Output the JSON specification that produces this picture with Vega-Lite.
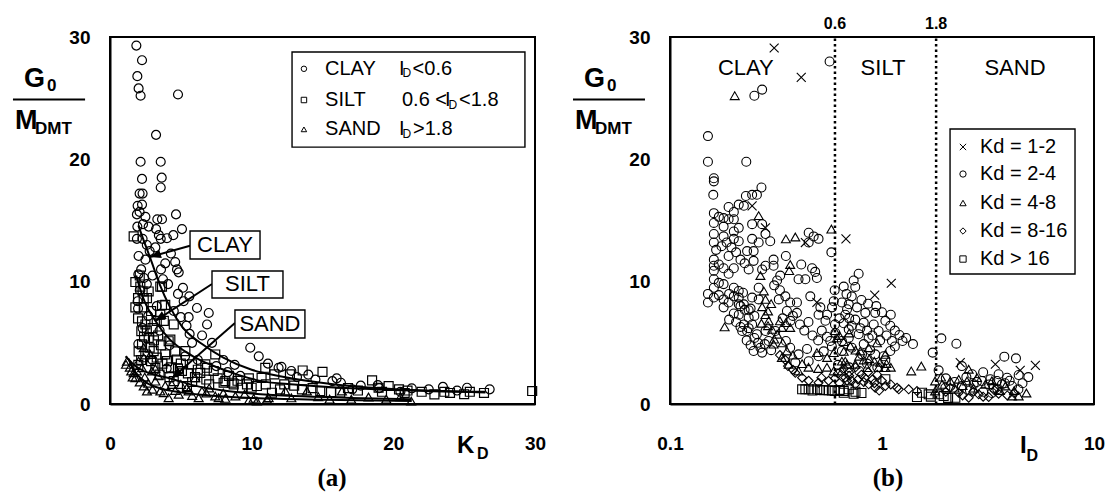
{
  "$schema": "https://vega.github.io/schema/vega-lite/v6.json",
  "background": "white",
  "padding": {"left": 10, "top": 15, "right": 4, "bottom": 4},
  "config": {
    "view": {"stroke": "black", "strokeWidth": 2},
    "axis": {
      "title": null, "grid": false, "domainColor": "black", "domainWidth": 2,
      "ticks": false, "tickSize": 0,
      "labelFont": "Liberation Sans", "labelFontSize": 19, "labelFontWeight": "bold",
      "labelColor": "black", "labelOverlap": false, "labelFlush": false, "labelBound": false
    },
    "text": {"font": "Liberation Sans", "color": "black"}
  },
  "resolve": {"scale": {"shape": "independent"}},
  "datasets": {
    "kdPoints": [
      {"kd":1.86,"ratio":29.3,"soil":"CLAY"},{"kd":2.26,"ratio":28.1,"soil":"CLAY"},{"kd":1.93,"ratio":26.8,"soil":"CLAY"},{"kd":2.02,"ratio":25.8,"soil":"CLAY"},{"kd":2.16,"ratio":25.2,"soil":"CLAY"},{"kd":4.8,"ratio":25.3,"soil":"CLAY"},{"kd":3.25,"ratio":22.0,"soil":"CLAY"},{"kd":2.16,"ratio":19.8,"soil":"CLAY"},{"kd":3.58,"ratio":19.8,"soil":"CLAY"},{"kd":2.26,"ratio":18.4,"soil":"CLAY"},{"kd":3.65,"ratio":18.5,"soil":"CLAY"},{"kd":3.58,"ratio":17.7,"soil":"CLAY"},{"kd":2.09,"ratio":17.2,"soil":"CLAY"},{"kd":2.3,"ratio":17.2,"soil":"CLAY"},{"kd":1.95,"ratio":16.2,"soil":"CLAY"},{"kd":2.26,"ratio":16.3,"soil":"CLAY"},{"kd":2.09,"ratio":15.7,"soil":"CLAY"},{"kd":1.9,"ratio":15.5,"soil":"CLAY"},{"kd":2.5,"ratio":15.3,"soil":"CLAY"},{"kd":4.66,"ratio":15.5,"soil":"CLAY"},{"kd":3.34,"ratio":15.1,"soil":"CLAY"},{"kd":3.67,"ratio":15.1,"soil":"CLAY"},{"kd":1.93,"ratio":14.5,"soil":"CLAY"},{"kd":2.33,"ratio":14.7,"soil":"CLAY"},{"kd":2.73,"ratio":14.5,"soil":"CLAY"},{"kd":3.25,"ratio":14.3,"soil":"CLAY"},{"kd":5.08,"ratio":14.3,"soil":"CLAY"},{"kd":4.02,"ratio":13.55,"soil":"CLAY"},{"kd":4.47,"ratio":13.8,"soil":"CLAY"},{"kd":3.58,"ratio":13.5,"soil":"CLAY"},{"kd":3.45,"ratio":13.8,"soil":"CLAY"},{"kd":2.3,"ratio":13.5,"soil":"CLAY"},{"kd":1.9,"ratio":13.5,"soil":"CLAY"},{"kd":2.8,"ratio":12.5,"soil":"CLAY"},{"kd":2.02,"ratio":12.1,"soil":"CLAY"},{"kd":3.9,"ratio":11.5,"soil":"CLAY"},{"kd":4.6,"ratio":11.6,"soil":"CLAY"},{"kd":4.73,"ratio":11.0,"soil":"CLAY"},{"kd":3.74,"ratio":10.2,"soil":"CLAY"},{"kd":5.15,"ratio":9.5,"soil":"CLAY"},{"kd":5.6,"ratio":8.8,"soil":"CLAY"},{"kd":5.2,"ratio":8.4,"soil":"CLAY"},{"kd":6.14,"ratio":7.85,"soil":"CLAY"},{"kd":5.55,"ratio":7.1,"soil":"CLAY"},{"kd":5.0,"ratio":7.1,"soil":"CLAY"},{"kd":6.97,"ratio":7.44,"soil":"CLAY"},{"kd":6.85,"ratio":6.5,"soil":"CLAY"},{"kd":5.62,"ratio":5.73,"soil":"CLAY"},{"kd":5.79,"ratio":5.0,"soil":"CLAY"},{"kd":9.9,"ratio":4.6,"soil":"CLAY"},{"kd":1.95,"ratio":8.4,"soil":"CLAY"},{"kd":1.98,"ratio":7.8,"soil":"CLAY"},{"kd":4.85,"ratio":10.76,"soil":"CLAY"},{"kd":11.15,"ratio":3.3,"soil":"CLAY"},{"kd":12.1,"ratio":3.04,"soil":"CLAY"},{"kd":11.9,"ratio":2.96,"soil":"CLAY"},{"kd":15.7,"ratio":1.87,"soil":"CLAY"},{"kd":16.3,"ratio":1.74,"soil":"CLAY"},{"kd":17.7,"ratio":1.5,"soil":"CLAY"},{"kd":21.3,"ratio":1.28,"soil":"CLAY"},{"kd":25.2,"ratio":1.33,"soil":"CLAY"},{"kd":26.8,"ratio":1.2,"soil":"CLAY"},{"kd":17.1,"ratio":1.2,"soil":"CLAY"},{"kd":20.5,"ratio":1.0,"soil":"CLAY"},{"kd":2.2,"ratio":11.0,"soil":"CLAY"},{"kd":2.4,"ratio":10.3,"soil":"CLAY"},{"kd":2.1,"ratio":9.3,"soil":"CLAY"},{"kd":2.6,"ratio":9.8,"soil":"CLAY"},{"kd":3.0,"ratio":10.5,"soil":"CLAY"},{"kd":2.3,"ratio":6.2,"soil":"CLAY"},{"kd":2.7,"ratio":7.2,"soil":"CLAY"},{"kd":3.3,"ratio":8.0,"soil":"CLAY"},{"kd":3.5,"ratio":6.0,"soil":"CLAY"},{"kd":4.2,"ratio":4.8,"soil":"CLAY"},{"kd":4.5,"ratio":7.6,"soil":"CLAY"},{"kd":5.3,"ratio":3.9,"soil":"CLAY"},{"kd":6.2,"ratio":3.6,"soil":"CLAY"},{"kd":7.5,"ratio":3.1,"soil":"CLAY"},{"kd":8.3,"ratio":2.6,"soil":"CLAY"},{"kd":9.2,"ratio":2.3,"soil":"CLAY"},{"kd":13.2,"ratio":2.2,"soil":"CLAY"},{"kd":14.5,"ratio":2.0,"soil":"CLAY"},{"kd":18.9,"ratio":1.55,"soil":"CLAY"},{"kd":22.5,"ratio":1.2,"soil":"CLAY"},{"kd":2.0,"ratio":4.9,"soil":"CLAY"},{"kd":3.0,"ratio":3.6,"soil":"CLAY"},{"kd":4.0,"ratio":2.9,"soil":"CLAY"},
      {"kd":2.0,"ratio":10.6,"soil":"CLAY"},{"kd":2.5,"ratio":11.8,"soil":"CLAY"},{"kd":3.2,"ratio":12.8,"soil":"CLAY"},{"kd":4.3,"ratio":12.3,"soil":"CLAY"},{"kd":2.6,"ratio":13.0,"soil":"CLAY"},{"kd":3.6,"ratio":11.0,"soil":"CLAY"},{"kd":4.1,"ratio":9.8,"soil":"CLAY"},{"kd":4.8,"ratio":9.0,"soil":"CLAY"},{"kd":5.4,"ratio":6.4,"soil":"CLAY"},{"kd":6.5,"ratio":5.6,"soil":"CLAY"},{"kd":7.2,"ratio":5.0,"soil":"CLAY"},{"kd":8.0,"ratio":3.6,"soil":"CLAY"},{"kd":8.8,"ratio":3.2,"soil":"CLAY"},{"kd":10.5,"ratio":3.9,"soil":"CLAY"},{"kd":12.8,"ratio":2.7,"soil":"CLAY"},{"kd":14.0,"ratio":2.4,"soil":"CLAY"},{"kd":16.0,"ratio":2.1,"soil":"CLAY"},{"kd":19.0,"ratio":1.3,"soil":"CLAY"},{"kd":23.5,"ratio":1.4,"soil":"CLAY"},{"kd":24.5,"ratio":1.1,"soil":"CLAY"},
      {"kd":1.67,"ratio":13.7,"soil":"SILT"},{"kd":1.79,"ratio":9.97,"soil":"SILT"},{"kd":2.14,"ratio":9.6,"soil":"SILT"},{"kd":3.55,"ratio":9.6,"soil":"SILT"},{"kd":2.73,"ratio":9.2,"soil":"SILT"},{"kd":2.38,"ratio":8.66,"soil":"SILT"},{"kd":3.67,"ratio":8.07,"soil":"SILT"},{"kd":3.55,"ratio":7.3,"soil":"SILT"},{"kd":2.38,"ratio":7.9,"soil":"SILT"},{"kd":1.98,"ratio":7.0,"soil":"SILT"},{"kd":2.5,"ratio":6.5,"soil":"SILT"},{"kd":2.21,"ratio":5.95,"soil":"SILT"},{"kd":4.5,"ratio":6.5,"soil":"SILT"},{"kd":4.26,"ratio":5.27,"soil":"SILT"},{"kd":2.73,"ratio":5.4,"soil":"SILT"},{"kd":2.26,"ratio":4.87,"soil":"SILT"},{"kd":3.08,"ratio":4.32,"soil":"SILT"},{"kd":3.9,"ratio":4.05,"soil":"SILT"},{"kd":4.73,"ratio":3.64,"soil":"SILT"},{"kd":4.02,"ratio":3.5,"soil":"SILT"},{"kd":5.32,"ratio":4.32,"soil":"SILT"},{"kd":5.79,"ratio":3.24,"soil":"SILT"},{"kd":6.73,"ratio":3.24,"soil":"SILT"},{"kd":7.43,"ratio":4.05,"soil":"SILT"},{"kd":6.37,"ratio":2.55,"soil":"SILT"},{"kd":5.08,"ratio":2.7,"soil":"SILT"},{"kd":7.32,"ratio":2.7,"soil":"SILT"},{"kd":8.14,"ratio":1.87,"soil":"SILT"},{"kd":8.73,"ratio":1.6,"soil":"SILT"},{"kd":9.67,"ratio":1.6,"soil":"SILT"},{"kd":9.32,"ratio":1.33,"soil":"SILT"},{"kd":10.37,"ratio":1.47,"soil":"SILT"},{"kd":5.43,"ratio":1.47,"soil":"SILT"},{"kd":4.5,"ratio":1.87,"soil":"SILT"},{"kd":3.2,"ratio":2.96,"soil":"SILT"},{"kd":2.49,"ratio":4.05,"soil":"SILT"},{"kd":1.98,"ratio":8.66,"soil":"SILT"},{"kd":1.79,"ratio":7.9,"soil":"SILT"},{"kd":3.67,"ratio":9.6,"soil":"SILT"},{"kd":2.61,"ratio":8.66,"soil":"SILT"},{"kd":3.9,"ratio":8.1,"soil":"SILT"},{"kd":2.26,"ratio":6.76,"soil":"SILT"},{"kd":4.14,"ratio":5.13,"soil":"SILT"},{"kd":2.02,"ratio":4.3,"soil":"SILT"},{"kd":4.6,"ratio":4.3,"soil":"SILT"},{"kd":6.85,"ratio":2.96,"soil":"SILT"},{"kd":8.02,"ratio":1.74,"soil":"SILT"},{"kd":8.6,"ratio":1.74,"soil":"SILT"},{"kd":10.96,"ratio":2.96,"soil":"SILT"},{"kd":10.0,"ratio":1.33,"soil":"SILT"},{"kd":11.6,"ratio":2.42,"soil":"SILT"},{"kd":12.7,"ratio":2.42,"soil":"SILT"},{"kd":13.6,"ratio":2.74,"soil":"SILT"},{"kd":15.0,"ratio":2.63,"soil":"SILT"},{"kd":18.5,"ratio":1.93,"soil":"SILT"},{"kd":19.67,"ratio":1.47,"soil":"SILT"},{"kd":11.43,"ratio":0.92,"soil":"SILT"},{"kd":14.84,"ratio":1.06,"soil":"SILT"},{"kd":15.6,"ratio":0.98,"soil":"SILT"},{"kd":16.25,"ratio":0.92,"soil":"SILT"},{"kd":18.96,"ratio":1.33,"soil":"SILT"},{"kd":20.4,"ratio":1.2,"soil":"SILT"},{"kd":22.0,"ratio":1.0,"soil":"SILT"},{"kd":22.9,"ratio":0.79,"soil":"SILT"},{"kd":25.4,"ratio":1.0,"soil":"SILT"},{"kd":29.8,"ratio":1.06,"soil":"SILT"},{"kd":10.7,"ratio":2.14,"soil":"SILT"},{"kd":13.55,"ratio":1.2,"soil":"SILT"},{"kd":3.0,"ratio":6.2,"soil":"SILT"},{"kd":3.4,"ratio":5.6,"soil":"SILT"},{"kd":3.8,"ratio":6.8,"soil":"SILT"},{"kd":2.9,"ratio":3.5,"soil":"SILT"},{"kd":5.0,"ratio":3.3,"soil":"SILT"},{"kd":6.0,"ratio":2.2,"soil":"SILT"},{"kd":7.0,"ratio":1.6,"soil":"SILT"},{"kd":12.3,"ratio":1.6,"soil":"SILT"},{"kd":17.5,"ratio":1.1,"soil":"SILT"},{"kd":21.0,"ratio":1.1,"soil":"SILT"},{"kd":24.0,"ratio":0.9,"soil":"SILT"},{"kd":2.0,"ratio":3.2,"soil":"SILT"},
      {"kd":2.1,"ratio":10.5,"soil":"SILT"},{"kd":2.3,"ratio":9.2,"soil":"SILT"},{"kd":2.9,"ratio":7.6,"soil":"SILT"},{"kd":3.3,"ratio":6.8,"soil":"SILT"},{"kd":2.6,"ratio":6.0,"soil":"SILT"},{"kd":3.1,"ratio":5.2,"soil":"SILT"},{"kd":3.6,"ratio":4.8,"soil":"SILT"},{"kd":2.4,"ratio":5.5,"soil":"SILT"},{"kd":2.8,"ratio":4.6,"soil":"SILT"},{"kd":3.3,"ratio":3.8,"soil":"SILT"},{"kd":3.7,"ratio":3.3,"soil":"SILT"},{"kd":4.3,"ratio":3.0,"soil":"SILT"},{"kd":4.8,"ratio":2.9,"soil":"SILT"},{"kd":5.5,"ratio":2.5,"soil":"SILT"},{"kd":6.2,"ratio":2.8,"soil":"SILT"},{"kd":6.8,"ratio":2.0,"soil":"SILT"},{"kd":7.6,"ratio":2.1,"soil":"SILT"},{"kd":8.4,"ratio":2.3,"soil":"SILT"},{"kd":9.0,"ratio":1.9,"soil":"SILT"},{"kd":9.8,"ratio":2.1,"soil":"SILT"},{"kd":11.0,"ratio":1.6,"soil":"SILT"},{"kd":12.0,"ratio":1.2,"soil":"SILT"},{"kd":13.0,"ratio":1.5,"soil":"SILT"},{"kd":14.3,"ratio":1.3,"soil":"SILT"},{"kd":16.8,"ratio":1.3,"soil":"SILT"},{"kd":19.2,"ratio":1.0,"soil":"SILT"},{"kd":20.8,"ratio":0.9,"soil":"SILT"},{"kd":23.6,"ratio":1.0,"soil":"SILT"},{"kd":25.0,"ratio":0.8,"soil":"SILT"},{"kd":26.4,"ratio":0.9,"soil":"SILT"},{"kd":3.5,"ratio":2.4,"soil":"SILT"},{"kd":4.2,"ratio":2.2,"soil":"SILT"},{"kd":5.8,"ratio":1.8,"soil":"SILT"},{"kd":2.2,"ratio":3.6,"soil":"SILT"},
      {"kd":1.13,"ratio":3.24,"soil":"SAND"},{"kd":1.5,"ratio":2.7,"soil":"SAND"},{"kd":2.02,"ratio":3.5,"soil":"SAND"},{"kd":2.26,"ratio":2.96,"soil":"SAND"},{"kd":1.79,"ratio":2.14,"soil":"SAND"},{"kd":2.38,"ratio":1.47,"soil":"SAND"},{"kd":2.96,"ratio":2.7,"soil":"SAND"},{"kd":3.2,"ratio":1.87,"soil":"SAND"},{"kd":3.55,"ratio":1.06,"soil":"SAND"},{"kd":4.37,"ratio":1.6,"soil":"SAND"},{"kd":4.85,"ratio":0.79,"soil":"SAND"},{"kd":4.14,"ratio":0.51,"soil":"SAND"},{"kd":5.55,"ratio":1.06,"soil":"SAND"},{"kd":6.26,"ratio":0.51,"soil":"SAND"},{"kd":7.43,"ratio":0.65,"soil":"SAND"},{"kd":8.14,"ratio":0.46,"soil":"SAND"},{"kd":8.85,"ratio":0.65,"soil":"SAND"},{"kd":2.61,"ratio":1.06,"soil":"SAND"},{"kd":1.9,"ratio":2.7,"soil":"SAND"},{"kd":2.85,"ratio":4.05,"soil":"SAND"},{"kd":2.38,"ratio":4.6,"soil":"SAND"},{"kd":1.2,"ratio":3.5,"soil":"SAND"},{"kd":1.67,"ratio":2.55,"soil":"SAND"},{"kd":2.38,"ratio":3.77,"soil":"SAND"},{"kd":2.45,"ratio":2.2,"soil":"SAND"},{"kd":3.2,"ratio":2.88,"soil":"SAND"},{"kd":3.79,"ratio":0.92,"soil":"SAND"},{"kd":5.43,"ratio":1.33,"soil":"SAND"},{"kd":6.02,"ratio":2.14,"soil":"SAND"},{"kd":6.49,"ratio":1.06,"soil":"SAND"},{"kd":7.67,"ratio":0.51,"soil":"SAND"},{"kd":10.14,"ratio":0.46,"soil":"SAND"},{"kd":11.2,"ratio":0.51,"soil":"SAND"},{"kd":10.37,"ratio":0.24,"soil":"SAND"},{"kd":11.08,"ratio":0.38,"soil":"SAND"},{"kd":12.37,"ratio":1.06,"soil":"SAND"},{"kd":13.9,"ratio":1.06,"soil":"SAND"},{"kd":16.37,"ratio":1.06,"soil":"SAND"},{"kd":17.03,"ratio":0.38,"soil":"SAND"},{"kd":18.25,"ratio":0.57,"soil":"SAND"},{"kd":21.26,"ratio":0.24,"soil":"SAND"},
      {"kd":1.4,"ratio":3.0,"soil":"SAND"},{"kd":1.6,"ratio":2.2,"soil":"SAND"},{"kd":2.1,"ratio":1.8,"soil":"SAND"},{"kd":2.7,"ratio":1.7,"soil":"SAND"},{"kd":3.0,"ratio":1.2,"soil":"SAND"},{"kd":3.4,"ratio":2.3,"soil":"SAND"},{"kd":3.9,"ratio":1.5,"soil":"SAND"},{"kd":4.6,"ratio":1.1,"soil":"SAND"},{"kd":5.0,"ratio":1.6,"soil":"SAND"},{"kd":5.8,"ratio":0.7,"soil":"SAND"},{"kd":6.8,"ratio":0.9,"soil":"SAND"},{"kd":7.0,"ratio":1.3,"soil":"SAND"},{"kd":8.0,"ratio":0.9,"soil":"SAND"},{"kd":9.5,"ratio":0.8,"soil":"SAND"},{"kd":9.8,"ratio":0.3,"soil":"SAND"},{"kd":12.8,"ratio":0.5,"soil":"SAND"},{"kd":14.7,"ratio":0.6,"soil":"SAND"},{"kd":15.5,"ratio":0.4,"soil":"SAND"},{"kd":19.5,"ratio":0.4,"soil":"SAND"},{"kd":20.5,"ratio":0.6,"soil":"SAND"}
    ],
    "fitCurves": [
      {"fit":"CLAY","kd":2.0,"ratio":14.6},{"fit":"CLAY","kd":2.4,"ratio":13.3},{"fit":"CLAY","kd":2.85,"ratio":11.9},{"fit":"CLAY","kd":3.5,"ratio":9.8},{"fit":"CLAY","kd":4.2,"ratio":8.0},{"fit":"CLAY","kd":5.1,"ratio":6.3},{"fit":"CLAY","kd":6.5,"ratio":4.9},{"fit":"CLAY","kd":8.0,"ratio":3.8},{"fit":"CLAY","kd":10.0,"ratio":2.8},{"fit":"CLAY","kd":12.1,"ratio":2.25},{"fit":"CLAY","kd":15.9,"ratio":1.6},{"fit":"CLAY","kd":21.3,"ratio":1.15},{"fit":"CLAY","kd":26.5,"ratio":1.0},
      {"fit":"SILT","kd":1.85,"ratio":10.5},{"fit":"SILT","kd":2.3,"ratio":8.8},{"fit":"SILT","kd":3.2,"ratio":6.8},{"fit":"SILT","kd":4.2,"ratio":5.3},{"fit":"SILT","kd":5.3,"ratio":4.3},{"fit":"SILT","kd":6.5,"ratio":3.5},{"fit":"SILT","kd":7.67,"ratio":2.96},{"fit":"SILT","kd":9.0,"ratio":2.4},{"fit":"SILT","kd":10.7,"ratio":1.87},{"fit":"SILT","kd":13.0,"ratio":1.6},{"fit":"SILT","kd":16.0,"ratio":1.35},{"fit":"SILT","kd":20.0,"ratio":1.15},{"fit":"SILT","kd":26.5,"ratio":0.95},
      {"fit":"SAND","kd":1.1,"ratio":3.9},{"fit":"SAND","kd":1.6,"ratio":3.3},{"fit":"SAND","kd":2.2,"ratio":2.8},{"fit":"SAND","kd":3.0,"ratio":2.45},{"fit":"SAND","kd":4.37,"ratio":2.05},{"fit":"SAND","kd":6.0,"ratio":1.5},{"fit":"SAND","kd":8.0,"ratio":1.1},{"fit":"SAND","kd":10.0,"ratio":0.85},{"fit":"SAND","kd":13.0,"ratio":0.65},{"fit":"SAND","kd":17.0,"ratio":0.5},{"fit":"SAND","kd":21.3,"ratio":0.38},
      {"fit":"ALL","kd":1.3,"ratio":3.7},{"fit":"ALL","kd":1.8,"ratio":2.6},{"fit":"ALL","kd":2.5,"ratio":1.8},{"fit":"ALL","kd":3.5,"ratio":1.3},{"fit":"ALL","kd":5.0,"ratio":0.95},{"fit":"ALL","kd":7.0,"ratio":0.7},{"fit":"ALL","kd":10.0,"ratio":0.5},{"fit":"ALL","kd":15.0,"ratio":0.35},{"fit":"ALL","kd":21.3,"ratio":0.25}
    ],
    "arrowsA": [
      {"kd":2.82,"ratio":12.02,"kd2":5.65,"ratio2":12.93,"angle":253},
      {"kd":3.18,"ratio":6.78,"kd2":7.2,"ratio2":9.81,"angle":237},
      {"kd":4.38,"ratio":2.13,"kd2":8.82,"ratio2":6.62,"angle":229}
    ],
    "framesA": [
      {"kd":5.65,"kd2":10.59,"ratio":14.14,"ratio2":11.85},
      {"kd":7.2,"kd2":12.21,"ratio":10.87,"ratio2":8.67},
      {"kd":8.82,"kd2":13.76,"ratio":7.68,"ratio2":5.4},
      {"kd":12.85,"kd2":29.29,"ratio":28.77,"ratio2":21.0}
    ],
    "boxLabelsA": [
      {"kd":8.12,"ratio":13.0,"label":"CLAY"},
      {"kd":9.7,"ratio":9.77,"label":"SILT"},
      {"kd":11.29,"ratio":6.54,"label":"SAND"}
    ],
    "legendSymA": [
      {"kd":13.69,"ratio":27.4,"soil":"CLAY"},
      {"kd":13.69,"ratio":24.85,"soil":"SILT"},
      {"kd":13.69,"ratio":22.45,"soil":"SAND"}
    ],
    "legendTextA": [
      {"kd":15.18,"ratio":27.4,"label":"CLAY"},{"kd":15.18,"ratio":24.85,"label":"SILT"},{"kd":15.18,"ratio":22.45,"label":"SAND"},
      {"kd":20.4,"ratio":27.4,"label":"I"},{"kd":21.36,"ratio":27.4,"label":"<0.6"},
      {"kd":20.61,"ratio":24.85,"label":"0.6 <"},{"kd":23.65,"ratio":24.85,"label":"I"},{"kd":24.64,"ratio":24.85,"label":"<1.8"},
      {"kd":20.4,"ratio":22.45,"label":"I"},{"kd":21.39,"ratio":22.45,"label":">1.8"}
    ],
    "legendSubA": [
      {"kd":20.65,"ratio":27.02,"label":"D"},{"kd":23.89,"ratio":24.47,"label":"D"},{"kd":20.65,"ratio":22.07,"label":"D"}
    ],
    "titleBigA": [{"kd":-6.07,"ratio":25.91,"label":"G"},{"kd":-6.71,"ratio":22.48,"label":"M"}],
    "titleSubA": [{"kd":-4.45,"ratio":25.55,"label":"0"},{"kd":-5.29,"ratio":22.07,"label":"DMT"}],
    "fractionA": [{"kd":-6.85,"kd2":-1.76,"ratio":24.89}],
    "axisNameA": [{"kd":24.49,"ratio":-4.0,"label":"K"}],
    "axisNameSubA": [{"kd":25.9,"ratio":-4.5,"label":"D"}],
    "panelTagA": [{"kd":15.67,"ratio":-6.7,"label":"(a)"}],
    "kdTicks": [{"kd":1},{"kd":2},{"kd":3},{"kd":4},{"kd":5},{"kd":6},{"kd":7},{"kd":8},{"kd":9},{"kd":10},{"kd":11},{"kd":12},{"kd":13},{"kd":14},{"kd":15},{"kd":16},{"kd":17},{"kd":18},{"kd":19},{"kd":20},{"kd":21},{"kd":22},{"kd":23},{"kd":24},{"kd":25},{"kd":26},{"kd":27},{"kd":28},{"kd":29}],
    "ratioTicksA": [{"ratio":1},{"ratio":2},{"ratio":3},{"ratio":4},{"ratio":5},{"ratio":6},{"ratio":7},{"ratio":8},{"ratio":9},{"ratio":10},{"ratio":11},{"ratio":12},{"ratio":13},{"ratio":14},{"ratio":15},{"ratio":16},{"ratio":17},{"ratio":18},{"ratio":19},{"ratio":20},{"ratio":21},{"ratio":22},{"ratio":23},{"ratio":24},{"ratio":25},{"ratio":26},{"ratio":27},{"ratio":28},{"ratio":29}],
    "idTicks": [{"id":0.2},{"id":0.3},{"id":0.4},{"id":0.5},{"id":0.6},{"id":0.7},{"id":0.8},{"id":0.9},{"id":1},{"id":2},{"id":3},{"id":4},{"id":5},{"id":6},{"id":7},{"id":8},{"id":9}],
    "ratioTicksB": [{"ratio":1},{"ratio":2},{"ratio":3},{"ratio":4},{"ratio":5},{"ratio":6},{"ratio":7},{"ratio":8},{"ratio":9},{"ratio":10},{"ratio":11},{"ratio":12},{"ratio":13},{"ratio":14},{"ratio":15},{"ratio":16},{"ratio":17},{"ratio":18},{"ratio":19},{"ratio":20},{"ratio":21},{"ratio":22},{"ratio":23},{"ratio":24},{"ratio":25},{"ratio":26},{"ratio":27},{"ratio":28},{"ratio":29}],
    "idPoints": [
      {"id":0.31,"ratio":29.1,"kdClass":"1-2"},{"id":0.416,"ratio":26.7,"kdClass":"1-2"},{"id":0.244,"ratio":16.2,"kdClass":"1-2"},{"id":0.282,"ratio":14.4,"kdClass":"1-2"},{"id":0.435,"ratio":13.2,"kdClass":"1-2"},{"id":0.493,"ratio":8.3,"kdClass":"1-2"},{"id":0.676,"ratio":13.5,"kdClass":"1-2"},{"id":0.924,"ratio":8.9,"kdClass":"1-2"},{"id":1.106,"ratio":9.87,"kdClass":"1-2"},{"id":3.425,"ratio":3.25,"kdClass":"1-2"},{"id":5.29,"ratio":3.16,"kdClass":"1-2"},{"id":4.487,"ratio":2.75,"kdClass":"1-2"},{"id":2.339,"ratio":3.38,"kdClass":"1-2"},
      {"id":0.566,"ratio":28.0,"kdClass":"2-4"},{"id":0.25,"ratio":25.2,"kdClass":"2-4"},{"id":0.272,"ratio":25.7,"kdClass":"2-4"},{"id":0.151,"ratio":21.9,"kdClass":"2-4"},{"id":0.151,"ratio":19.8,"kdClass":"2-4"},{"id":0.229,"ratio":19.8,"kdClass":"2-4"},{"id":0.161,"ratio":18.45,"kdClass":"2-4"},{"id":0.161,"ratio":18.2,"kdClass":"2-4"},{"id":0.16,"ratio":17.1,"kdClass":"2-4"},{"id":0.27,"ratio":17.7,"kdClass":"2-4"},{"id":0.257,"ratio":17.1,"kdClass":"2-4"},{"id":0.244,"ratio":17.1,"kdClass":"2-4"},{"id":0.228,"ratio":17.0,"kdClass":"2-4"},{"id":0.211,"ratio":16.3,"kdClass":"2-4"},{"id":0.2,"ratio":15.7,"kdClass":"2-4"},{"id":0.223,"ratio":16.2,"kdClass":"2-4"},{"id":0.189,"ratio":16.1,"kdClass":"2-4"},{"id":0.161,"ratio":15.6,"kdClass":"2-4"},{"id":0.17,"ratio":15.3,"kdClass":"2-4"},{"id":0.179,"ratio":15.2,"kdClass":"2-4"},{"id":0.189,"ratio":15.1,"kdClass":"2-4"},{"id":0.2,"ratio":15.1,"kdClass":"2-4"},{"id":0.161,"ratio":14.8,"kdClass":"2-4"},{"id":0.179,"ratio":14.5,"kdClass":"2-4"},{"id":0.211,"ratio":14.4,"kdClass":"2-4"},{"id":0.244,"ratio":14.7,"kdClass":"2-4"},{"id":0.272,"ratio":14.7,"kdClass":"2-4"},{"id":0.2,"ratio":14.1,"kdClass":"2-4"},{"id":0.161,"ratio":13.9,"kdClass":"2-4"},{"id":0.179,"ratio":13.7,"kdClass":"2-4"},{"id":0.2,"ratio":13.5,"kdClass":"2-4"},{"id":0.211,"ratio":13.3,"kdClass":"2-4"},{"id":0.161,"ratio":13.2,"kdClass":"2-4"},{"id":0.244,"ratio":13.5,"kdClass":"2-4"},{"id":0.262,"ratio":13.2,"kdClass":"2-4"},{"id":0.282,"ratio":13.9,"kdClass":"2-4"},{"id":0.297,"ratio":13.3,"kdClass":"2-4"},{"id":0.231,"ratio":12.5,"kdClass":"2-4"},{"id":0.248,"ratio":12.5,"kdClass":"2-4"},{"id":0.248,"ratio":11.7,"kdClass":"2-4"},{"id":0.189,"ratio":12.1,"kdClass":"2-4"},{"id":0.161,"ratio":11.8,"kdClass":"2-4"},{"id":0.161,"ratio":11.3,"kdClass":"2-4"},{"id":0.161,"ratio":10.9,"kdClass":"2-4"},{"id":0.17,"ratio":11.4,"kdClass":"2-4"},{"id":0.179,"ratio":11.1,"kdClass":"2-4"},{"id":0.2,"ratio":11.1,"kdClass":"2-4"},{"id":0.189,"ratio":10.65,"kdClass":"2-4"},{"id":0.161,"ratio":10.2,"kdClass":"2-4"},{"id":0.17,"ratio":9.9,"kdClass":"2-4"},{"id":0.179,"ratio":9.8,"kdClass":"2-4"},{"id":0.161,"ratio":9.5,"kdClass":"2-4"},{"id":0.2,"ratio":9.5,"kdClass":"2-4"},{"id":0.211,"ratio":9.24,"kdClass":"2-4"},{"id":0.221,"ratio":9.1,"kdClass":"2-4"},{"id":0.151,"ratio":9.0,"kdClass":"2-4"},{"id":0.151,"ratio":8.3,"kdClass":"2-4"},{"id":0.161,"ratio":8.7,"kdClass":"2-4"},{"id":0.17,"ratio":8.9,"kdClass":"2-4"},{"id":0.179,"ratio":8.55,"kdClass":"2-4"},{"id":0.179,"ratio":7.9,"kdClass":"2-4"},{"id":0.189,"ratio":8.3,"kdClass":"2-4"},{"id":0.211,"ratio":8.7,"kdClass":"2-4"},{"id":0.211,"ratio":8.15,"kdClass":"2-4"},{"id":0.211,"ratio":7.3,"kdClass":"2-4"},{"id":0.223,"ratio":8.15,"kdClass":"2-4"},{"id":0.235,"ratio":7.66,"kdClass":"2-4"},{"id":0.235,"ratio":7.05,"kdClass":"2-4"},{"id":0.244,"ratio":8.7,"kdClass":"2-4"},{"id":0.262,"ratio":9.5,"kdClass":"2-4"},{"id":0.262,"ratio":8.55,"kdClass":"2-4"},{"id":0.219,"ratio":5.97,"kdClass":"2-4"},{"id":0.231,"ratio":5.97,"kdClass":"2-4"},{"id":0.223,"ratio":6.5,"kdClass":"2-4"},{"id":0.244,"ratio":6.5,"kdClass":"2-4"},{"id":0.257,"ratio":5.7,"kdClass":"2-4"},{"id":0.248,"ratio":4.33,"kdClass":"2-4"},{"id":0.267,"ratio":4.6,"kdClass":"2-4"},{"id":0.272,"ratio":4.2,"kdClass":"2-4"},{"id":0.282,"ratio":5.97,"kdClass":"2-4"},{"id":0.292,"ratio":5.15,"kdClass":"2-4"},{"id":0.314,"ratio":5.97,"kdClass":"2-4"},{"id":0.326,"ratio":8.55,"kdClass":"2-4"},{"id":0.35,"ratio":8.8,"kdClass":"2-4"},{"id":0.356,"ratio":7.6,"kdClass":"2-4"},{"id":0.369,"ratio":8.3,"kdClass":"2-4"},{"id":0.397,"ratio":8.3,"kdClass":"2-4"},{"id":0.397,"ratio":7.45,"kdClass":"2-4"},{"id":0.352,"ratio":5.15,"kdClass":"2-4"},{"id":0.308,"ratio":11.8,"kdClass":"2-4"},{"id":0.308,"ratio":11.3,"kdClass":"2-4"},{"id":0.282,"ratio":11.3,"kdClass":"2-4"},{"id":0.272,"ratio":11.0,"kdClass":"2-4"},{"id":0.331,"ratio":10.5,"kdClass":"2-4"},{"id":0.32,"ratio":10.1,"kdClass":"2-4"},{"id":0.352,"ratio":12.1,"kdClass":"2-4"},{"id":0.404,"ratio":10.2,"kdClass":"2-4"},{"id":0.435,"ratio":10.2,"kdClass":"2-4"},{"id":0.468,"ratio":11.1,"kdClass":"2-4"},{"id":0.484,"ratio":10.8,"kdClass":"2-4"},{"id":0.493,"ratio":10.3,"kdClass":"2-4"},{"id":0.416,"ratio":11.4,"kdClass":"2-4"},{"id":0.459,"ratio":8.8,"kdClass":"2-4"},{"id":0.502,"ratio":7.3,"kdClass":"2-4"},{"id":0.512,"ratio":7.9,"kdClass":"2-4"},{"id":0.541,"ratio":6.8,"kdClass":"2-4"},{"id":0.551,"ratio":7.3,"kdClass":"2-4"},{"id":0.581,"ratio":7.9,"kdClass":"2-4"},{"id":0.592,"ratio":8.4,"kdClass":"2-4"},{"id":0.598,"ratio":9.3,"kdClass":"2-4"},{"id":0.577,"ratio":12.4,"kdClass":"2-4"},{"id":0.647,"ratio":8.3,"kdClass":"2-4"},{"id":0.684,"ratio":7.75,"kdClass":"2-4"},{"id":0.451,"ratio":14.0,"kdClass":"2-4"},{"id":0.476,"ratio":13.7,"kdClass":"2-4"},{"id":0.502,"ratio":13.5,"kdClass":"2-4"},{"id":0.451,"ratio":13.2,"kdClass":"2-4"},{"id":0.404,"ratio":4.06,"kdClass":"2-4"},{"id":0.451,"ratio":3.5,"kdClass":"2-4"},{"id":0.502,"ratio":3.9,"kdClass":"2-4"},{"id":0.531,"ratio":4.3,"kdClass":"2-4"},{"id":0.57,"ratio":5.15,"kdClass":"2-4"},{"id":0.443,"ratio":4.5,"kdClass":"2-4"},{"id":0.369,"ratio":4.6,"kdClass":"2-4"},{"id":0.39,"ratio":3.4,"kdClass":"2-4"},{"id":0.603,"ratio":5.8,"kdClass":"2-4"},{"id":0.647,"ratio":4.33,"kdClass":"2-4"},{"id":0.697,"ratio":5.4,"kdClass":"2-4"},{"id":0.776,"ratio":10.65,"kdClass":"2-4"},{"id":0.735,"ratio":10.1,"kdClass":"2-4"},{"id":0.748,"ratio":9.57,"kdClass":"2-4"},{"id":0.697,"ratio":8.15,"kdClass":"2-4"},{"id":0.762,"ratio":7.9,"kdClass":"2-4"},{"id":0.834,"ratio":7.45,"kdClass":"2-4"},{"id":0.929,"ratio":7.45,"kdClass":"2-4"},{"id":0.671,"ratio":7.3,"kdClass":"2-4"},{"id":0.748,"ratio":6.9,"kdClass":"2-4"},{"id":0.82,"ratio":6.65,"kdClass":"2-4"},{"id":0.914,"ratio":6.5,"kdClass":"2-4"},{"id":1.037,"ratio":6.8,"kdClass":"2-4"},{"id":1.094,"ratio":6.4,"kdClass":"2-4"},{"id":0.964,"ratio":5.97,"kdClass":"2-4"},{"id":0.697,"ratio":6.1,"kdClass":"2-4"},{"id":0.776,"ratio":5.7,"kdClass":"2-4"},{"id":0.865,"ratio":5.4,"kdClass":"2-4"},{"id":1.208,"ratio":5.64,"kdClass":"2-4"},{"id":1.25,"ratio":5.15,"kdClass":"2-4"},{"id":1.114,"ratio":5.15,"kdClass":"2-4"},{"id":1.094,"ratio":4.33,"kdClass":"2-4"},{"id":1.018,"ratio":3.9,"kdClass":"2-4"},{"id":0.647,"ratio":5.15,"kdClass":"2-4"},{"id":0.721,"ratio":4.6,"kdClass":"2-4"},{"id":1.037,"ratio":3.57,"kdClass":"2-4"},{"id":0.929,"ratio":4.06,"kdClass":"2-4"},{"id":0.805,"ratio":4.06,"kdClass":"2-4"},{"id":0.62,"ratio":3.2,"kdClass":"2-4"},{"id":0.7,"ratio":3.0,"kdClass":"2-4"},{"id":0.78,"ratio":2.7,"kdClass":"2-4"},{"id":0.85,"ratio":3.3,"kdClass":"2-4"},{"id":0.95,"ratio":3.0,"kdClass":"2-4"},{"id":0.68,"ratio":9.0,"kdClass":"2-4"},{"id":1.905,"ratio":5.37,"kdClass":"2-4"},{"id":2.243,"ratio":4.93,"kdClass":"2-4"},{"id":1.734,"ratio":4.2,"kdClass":"2-4"},{"id":1.85,"ratio":2.75,"kdClass":"2-4"},{"id":3.776,"ratio":3.87,"kdClass":"2-4"},{"id":4.285,"ratio":3.73,"kdClass":"2-4"},{"id":4.413,"ratio":2.37,"kdClass":"2-4"},{"id":4.105,"ratio":1.47,"kdClass":"2-4"},{"id":2.38,"ratio":3.1,"kdClass":"2-4"},{"id":1.99,"ratio":1.33,"kdClass":"2-4"},{"id":2.38,"ratio":1.47,"kdClass":"2-4"},{"id":2.707,"ratio":1.61,"kdClass":"2-4"},{"id":2.965,"ratio":1.88,"kdClass":"2-4"},{"id":3.243,"ratio":2.02,"kdClass":"2-4"},{"id":3.486,"ratio":1.88,"kdClass":"2-4"},{"id":3.681,"ratio":1.61,"kdClass":"2-4"},{"id":3.362,"ratio":1.33,"kdClass":"2-4"},{"id":3.89,"ratio":2.15,"kdClass":"2-4"},{"id":3.548,"ratio":2.43,"kdClass":"2-4"},{"id":2.66,"ratio":2.43,"kdClass":"2-4"},
      {"id":0.165,"ratio":12.6,"kdClass":"2-4"},{"id":0.175,"ratio":12.9,"kdClass":"2-4"},{"id":0.185,"ratio":13.2,"kdClass":"2-4"},{"id":0.195,"ratio":12.8,"kdClass":"2-4"},{"id":0.205,"ratio":12.4,"kdClass":"2-4"},{"id":0.215,"ratio":11.8,"kdClass":"2-4"},{"id":0.225,"ratio":11.5,"kdClass":"2-4"},{"id":0.235,"ratio":11.0,"kdClass":"2-4"},{"id":0.19,"ratio":9.0,"kdClass":"2-4"},{"id":0.2,"ratio":8.8,"kdClass":"2-4"},{"id":0.215,"ratio":8.0,"kdClass":"2-4"},{"id":0.225,"ratio":7.7,"kdClass":"2-4"},{"id":0.24,"ratio":7.8,"kdClass":"2-4"},{"id":0.25,"ratio":7.2,"kdClass":"2-4"},{"id":0.2,"ratio":7.4,"kdClass":"2-4"},{"id":0.19,"ratio":6.9,"kdClass":"2-4"},{"id":0.205,"ratio":6.7,"kdClass":"2-4"},{"id":0.215,"ratio":6.3,"kdClass":"2-4"},{"id":0.235,"ratio":6.2,"kdClass":"2-4"},{"id":0.25,"ratio":5.4,"kdClass":"2-4"},{"id":0.26,"ratio":5.0,"kdClass":"2-4"},{"id":0.24,"ratio":4.8,"kdClass":"2-4"},{"id":0.23,"ratio":5.2,"kdClass":"2-4"},{"id":0.28,"ratio":4.9,"kdClass":"2-4"},{"id":0.3,"ratio":4.4,"kdClass":"2-4"},{"id":0.31,"ratio":9.7,"kdClass":"2-4"},{"id":0.33,"ratio":9.3,"kdClass":"2-4"},{"id":0.34,"ratio":7.0,"kdClass":"2-4"},{"id":0.37,"ratio":6.8,"kdClass":"2-4"},{"id":0.38,"ratio":7.2,"kdClass":"2-4"},{"id":0.41,"ratio":6.5,"kdClass":"2-4"},{"id":0.43,"ratio":6.0,"kdClass":"2-4"},{"id":0.45,"ratio":6.7,"kdClass":"2-4"},{"id":0.47,"ratio":5.6,"kdClass":"2-4"},{"id":0.5,"ratio":5.2,"kdClass":"2-4"},{"id":0.52,"ratio":6.0,"kdClass":"2-4"},{"id":0.55,"ratio":5.5,"kdClass":"2-4"},{"id":0.58,"ratio":4.7,"kdClass":"2-4"},{"id":0.6,"ratio":6.5,"kdClass":"2-4"},{"id":0.63,"ratio":7.0,"kdClass":"2-4"},{"id":0.66,"ratio":6.6,"kdClass":"2-4"},{"id":0.7,"ratio":7.0,"kdClass":"2-4"},{"id":0.72,"ratio":6.4,"kdClass":"2-4"},{"id":0.79,"ratio":6.2,"kdClass":"2-4"},{"id":0.85,"ratio":6.0,"kdClass":"2-4"},{"id":0.9,"ratio":5.6,"kdClass":"2-4"},{"id":0.98,"ratio":5.2,"kdClass":"2-4"},{"id":1.05,"ratio":5.6,"kdClass":"2-4"},{"id":0.82,"ratio":4.9,"kdClass":"2-4"},{"id":0.88,"ratio":4.4,"kdClass":"2-4"},{"id":1.15,"ratio":4.7,"kdClass":"2-4"},{"id":0.66,"ratio":9.6,"kdClass":"2-4"},{"id":0.72,"ratio":8.8,"kdClass":"2-4"},{"id":0.8,"ratio":8.5,"kdClass":"2-4"},{"id":0.86,"ratio":8.2,"kdClass":"2-4"},{"id":0.94,"ratio":8.0,"kdClass":"2-4"},{"id":1.0,"ratio":7.5,"kdClass":"2-4"},{"id":1.1,"ratio":7.3,"kdClass":"2-4"},{"id":1.15,"ratio":6.0,"kdClass":"2-4"},{"id":1.3,"ratio":5.4,"kdClass":"2-4"},{"id":1.4,"ratio":4.9,"kdClass":"2-4"},{"id":2.0,"ratio":2.1,"kdClass":"2-4"},{"id":2.2,"ratio":1.8,"kdClass":"2-4"},{"id":2.5,"ratio":2.2,"kdClass":"2-4"},{"id":2.8,"ratio":1.8,"kdClass":"2-4"},{"id":3.0,"ratio":2.6,"kdClass":"2-4"},{"id":3.2,"ratio":1.6,"kdClass":"2-4"},{"id":3.5,"ratio":1.2,"kdClass":"2-4"},{"id":3.8,"ratio":1.7,"kdClass":"2-4"},{"id":4.0,"ratio":1.9,"kdClass":"2-4"},{"id":4.6,"ratio":1.7,"kdClass":"2-4"},{"id":4.9,"ratio":2.2,"kdClass":"2-4"},{"id":2.6,"ratio":1.1,"kdClass":"2-4"},{"id":3.0,"ratio":1.0,"kdClass":"2-4"},{"id":3.3,"ratio":0.9,"kdClass":"2-4"},{"id":4.4,"ratio":1.2,"kdClass":"2-4"},
      {"id":0.202,"ratio":25.2,"kdClass":"4-8"},{"id":0.262,"ratio":15.4,"kdClass":"4-8"},{"id":0.352,"ratio":13.5,"kdClass":"4-8"},{"id":0.39,"ratio":13.65,"kdClass":"4-8"},{"id":0.577,"ratio":14.3,"kdClass":"4-8"},{"id":0.369,"ratio":11.4,"kdClass":"4-8"},{"id":0.365,"ratio":10.9,"kdClass":"4-8"},{"id":0.181,"ratio":6.3,"kdClass":"4-8"},{"id":0.267,"ratio":10.5,"kdClass":"4-8"},{"id":0.277,"ratio":9.24,"kdClass":"4-8"},{"id":0.282,"ratio":8.55,"kdClass":"4-8"},{"id":0.272,"ratio":7.95,"kdClass":"4-8"},{"id":0.282,"ratio":7.3,"kdClass":"4-8"},{"id":0.292,"ratio":6.8,"kdClass":"4-8"},{"id":0.303,"ratio":6.1,"kdClass":"4-8"},{"id":0.308,"ratio":4.9,"kdClass":"4-8"},{"id":0.337,"ratio":6.25,"kdClass":"4-8"},{"id":0.352,"ratio":6.65,"kdClass":"4-8"},{"id":0.369,"ratio":6.25,"kdClass":"4-8"},{"id":0.337,"ratio":3.8,"kdClass":"4-8"},{"id":0.356,"ratio":4.33,"kdClass":"4-8"},{"id":0.363,"ratio":3.25,"kdClass":"4-8"},{"id":0.404,"ratio":2.7,"kdClass":"4-8"},{"id":0.493,"ratio":4.2,"kdClass":"4-8"},{"id":0.551,"ratio":3.8,"kdClass":"4-8"},{"id":0.592,"ratio":4.2,"kdClass":"4-8"},{"id":0.592,"ratio":2.7,"kdClass":"4-8"},{"id":0.613,"ratio":5.4,"kdClass":"4-8"},{"id":0.647,"ratio":3.5,"kdClass":"4-8"},{"id":0.66,"ratio":4.3,"kdClass":"4-8"},{"id":0.684,"ratio":3.25,"kdClass":"4-8"},{"id":0.647,"ratio":2.7,"kdClass":"4-8"},{"id":0.709,"ratio":4.74,"kdClass":"4-8"},{"id":0.79,"ratio":4.33,"kdClass":"4-8"},{"id":0.865,"ratio":4.6,"kdClass":"4-8"},{"id":0.947,"ratio":5.0,"kdClass":"4-8"},{"id":1.037,"ratio":4.06,"kdClass":"4-8"},{"id":0.671,"ratio":3.5,"kdClass":"4-8"},{"id":0.748,"ratio":3.25,"kdClass":"4-8"},{"id":0.849,"ratio":2.97,"kdClass":"4-8"},{"id":0.964,"ratio":2.97,"kdClass":"4-8"},{"id":1.037,"ratio":2.97,"kdClass":"4-8"},{"id":1.374,"ratio":2.7,"kdClass":"4-8"},{"id":1.532,"ratio":3.1,"kdClass":"4-8"},{"id":2.564,"ratio":2.84,"kdClass":"4-8"},{"id":1.78,"ratio":1.88,"kdClass":"4-8"},{"id":1.919,"ratio":1.61,"kdClass":"4-8"},{"id":2.1,"ratio":1.88,"kdClass":"4-8"},{"id":2.3,"ratio":2.02,"kdClass":"4-8"},{"id":2.518,"ratio":1.88,"kdClass":"4-8"},{"id":2.805,"ratio":2.15,"kdClass":"4-8"},{"id":3.07,"ratio":1.61,"kdClass":"4-8"},{"id":3.82,"ratio":1.47,"kdClass":"4-8"},{"id":4.105,"ratio":0.65,"kdClass":"4-8"},{"id":4.413,"ratio":0.65,"kdClass":"4-8"},{"id":1.78,"ratio":1.06,"kdClass":"4-8"},{"id":0.29,"ratio":7.6,"kdClass":"4-8"},{"id":0.3,"ratio":8.2,"kdClass":"4-8"},{"id":0.32,"ratio":5.7,"kdClass":"4-8"},{"id":0.33,"ratio":6.8,"kdClass":"4-8"},
      {"id":0.6,"ratio":6.0,"kdClass":"4-8"},{"id":0.63,"ratio":5.6,"kdClass":"4-8"},{"id":0.66,"ratio":5.1,"kdClass":"4-8"},{"id":0.7,"ratio":5.8,"kdClass":"4-8"},{"id":0.75,"ratio":4.4,"kdClass":"4-8"},{"id":0.78,"ratio":3.9,"kdClass":"4-8"},{"id":0.82,"ratio":3.6,"kdClass":"4-8"},{"id":0.87,"ratio":3.7,"kdClass":"4-8"},{"id":0.92,"ratio":3.5,"kdClass":"4-8"},{"id":0.98,"ratio":3.4,"kdClass":"4-8"},{"id":1.05,"ratio":3.3,"kdClass":"4-8"},{"id":1.1,"ratio":3.0,"kdClass":"4-8"},{"id":0.27,"ratio":6.6,"kdClass":"4-8"},{"id":0.29,"ratio":6.4,"kdClass":"4-8"},{"id":0.31,"ratio":5.3,"kdClass":"4-8"},{"id":0.34,"ratio":5.0,"kdClass":"4-8"},{"id":0.38,"ratio":4.0,"kdClass":"4-8"},{"id":0.42,"ratio":3.3,"kdClass":"4-8"},{"id":0.45,"ratio":3.0,"kdClass":"4-8"},{"id":0.5,"ratio":2.9,"kdClass":"4-8"},{"id":0.55,"ratio":3.0,"kdClass":"4-8"},{"id":1.9,"ratio":2.2,"kdClass":"4-8"},{"id":2.2,"ratio":1.3,"kdClass":"4-8"},{"id":2.7,"ratio":1.3,"kdClass":"4-8"},{"id":3.3,"ratio":1.9,"kdClass":"4-8"},{"id":3.6,"ratio":1.1,"kdClass":"4-8"},{"id":4.2,"ratio":1.1,"kdClass":"4-8"},{"id":4.8,"ratio":0.9,"kdClass":"4-8"},{"id":2.4,"ratio":1.5,"kdClass":"4-8"},
      {"id":0.39,"ratio":2.55,"kdClass":"8-16"},{"id":0.42,"ratio":2.15,"kdClass":"8-16"},{"id":0.451,"ratio":1.9,"kdClass":"8-16"},{"id":0.502,"ratio":1.74,"kdClass":"8-16"},{"id":0.56,"ratio":1.9,"kdClass":"8-16"},{"id":0.518,"ratio":2.15,"kdClass":"8-16"},{"id":0.684,"ratio":1.9,"kdClass":"8-16"},{"id":0.671,"ratio":2.15,"kdClass":"8-16"},{"id":0.748,"ratio":1.61,"kdClass":"8-16"},{"id":0.829,"ratio":2.15,"kdClass":"8-16"},{"id":0.929,"ratio":1.33,"kdClass":"8-16"},{"id":1.037,"ratio":1.47,"kdClass":"8-16"},{"id":1.178,"ratio":1.33,"kdClass":"8-16"},{"id":1.336,"ratio":1.2,"kdClass":"8-16"},{"id":1.462,"ratio":1.06,"kdClass":"8-16"},{"id":0.865,"ratio":1.61,"kdClass":"8-16"},{"id":2.564,"ratio":0.51,"kdClass":"8-16"},{"id":2.858,"ratio":0.79,"kdClass":"8-16"},{"id":3.187,"ratio":0.57,"kdClass":"8-16"},{"id":3.548,"ratio":0.84,"kdClass":"8-16"},{"id":2.3,"ratio":0.92,"kdClass":"8-16"},{"id":2.1,"ratio":1.33,"kdClass":"8-16"},{"id":0.62,"ratio":2.5,"kdClass":"8-16"},{"id":0.7,"ratio":2.6,"kdClass":"8-16"},{"id":0.75,"ratio":3.0,"kdClass":"8-16"},{"id":0.8,"ratio":2.4,"kdClass":"8-16"},{"id":0.9,"ratio":2.0,"kdClass":"8-16"},{"id":0.95,"ratio":2.4,"kdClass":"8-16"},{"id":0.72,"ratio":1.9,"kdClass":"8-16"},{"id":0.33,"ratio":4.0,"kdClass":"8-16"},{"id":0.35,"ratio":3.6,"kdClass":"8-16"},
      {"id":0.36,"ratio":3.1,"kdClass":"8-16"},{"id":0.38,"ratio":2.8,"kdClass":"8-16"},{"id":0.6,"ratio":2.1,"kdClass":"8-16"},{"id":0.63,"ratio":1.7,"kdClass":"8-16"},{"id":0.66,"ratio":2.9,"kdClass":"8-16"},{"id":0.7,"ratio":2.3,"kdClass":"8-16"},{"id":0.77,"ratio":2.0,"kdClass":"8-16"},{"id":0.82,"ratio":1.8,"kdClass":"8-16"},{"id":0.86,"ratio":2.6,"kdClass":"8-16"},{"id":0.92,"ratio":1.7,"kdClass":"8-16"},{"id":1.0,"ratio":1.9,"kdClass":"8-16"},{"id":1.1,"ratio":1.6,"kdClass":"8-16"},{"id":1.2,"ratio":1.2,"kdClass":"8-16"},{"id":0.97,"ratio":1.1,"kdClass":"8-16"},{"id":2.0,"ratio":1.0,"kdClass":"8-16"},{"id":2.4,"ratio":0.7,"kdClass":"8-16"},{"id":2.7,"ratio":1.0,"kdClass":"8-16"},{"id":3.0,"ratio":0.6,"kdClass":"8-16"},{"id":3.4,"ratio":1.1,"kdClass":"8-16"},{"id":3.9,"ratio":0.7,"kdClass":"8-16"},{"id":4.2,"ratio":0.9,"kdClass":"8-16"},
      {"id":0.42,"ratio":1.2,"kdClass":">16"},{"id":0.435,"ratio":1.2,"kdClass":">16"},{"id":0.451,"ratio":1.2,"kdClass":">16"},{"id":0.495,"ratio":1.2,"kdClass":">16"},{"id":0.531,"ratio":1.12,"kdClass":">16"},{"id":0.56,"ratio":1.12,"kdClass":">16"},{"id":0.598,"ratio":1.06,"kdClass":">16"},{"id":0.66,"ratio":1.06,"kdClass":">16"},{"id":0.697,"ratio":1.2,"kdClass":">16"},{"id":1.037,"ratio":2.02,"kdClass":">16"},{"id":0.66,"ratio":0.92,"kdClass":">16"},{"id":0.735,"ratio":0.84,"kdClass":">16"},{"id":1.462,"ratio":0.57,"kdClass":">16"},{"id":1.545,"ratio":0.92,"kdClass":">16"},{"id":1.66,"ratio":0.79,"kdClass":">16"},{"id":1.954,"ratio":0.65,"kdClass":">16"},{"id":2.218,"ratio":0.51,"kdClass":">16"},{"id":1.85,"ratio":0.79,"kdClass":">16"},
      {"id":0.47,"ratio":1.1,"kdClass":">16"},{"id":0.51,"ratio":1.15,"kdClass":">16"},{"id":0.58,"ratio":1.1,"kdClass":">16"},{"id":0.63,"ratio":1.15,"kdClass":">16"},{"id":0.75,"ratio":1.0,"kdClass":">16"},{"id":0.8,"ratio":0.9,"kdClass":">16"},{"id":1.7,"ratio":0.6,"kdClass":">16"},{"id":2.05,"ratio":0.5,"kdClass":">16"}
    ],
    "boundaries": [{"id":0.6,"ratio":0,"ratio2":30},{"id":1.8,"ratio":0,"ratio2":30}],
    "boundaryLabels": [{"id":0.6,"ratio":30,"label":"0.6"},{"id":1.8,"ratio":30,"label":"1.8"}],
    "zoneLabels": [{"id":0.228,"ratio":26.9,"label":"CLAY"},{"id":1.011,"ratio":26.9,"label":"SILT"},{"id":4.24,"ratio":26.9,"label":"SAND"}],
    "frameB": [{"id":2.094,"id2":8.137,"ratio":22.48,"ratio2":10.63}],
    "legendSymB": [
      {"id":2.41,"ratio":21.01,"kdClass":"1-2"},{"id":2.41,"ratio":18.8,"kdClass":"2-4"},{"id":2.41,"ratio":16.43,"kdClass":"4-8"},{"id":2.41,"ratio":14.14,"kdClass":"8-16"},{"id":2.41,"ratio":11.85,"kdClass":">16"}
    ],
    "legendTextB": [
      {"id":2.9,"ratio":21.01,"label":"Kd = 1-2"},{"id":2.9,"ratio":18.8,"label":"Kd = 2-4"},{"id":2.9,"ratio":16.43,"label":"Kd = 4-8"},{"id":2.9,"ratio":14.14,"label":"Kd = 8-16"},{"id":2.9,"ratio":11.85,"label":"Kd > 16"}
    ],
    "titleBigB": [{"id":0.03928,"ratio":25.91,"label":"G"},{"id":0.03563,"ratio":22.48,"label":"M"}],
    "titleSubB": [{"id":0.05044,"ratio":25.55,"label":"0"},{"id":0.04428,"ratio":22.07,"label":"DMT"}],
    "fractionB": [{"id":0.03487,"id2":0.07621,"ratio":24.89}],
    "axisNameB": [{"id":4.477,"ratio":-4.0,"label":"I"}],
    "axisNameSubB": [{"id":4.805,"ratio":-4.66,"label":"D"}],
    "panelTagB": [{"id":1.067,"ratio":-6.7,"label":"(b)"}]
  },
  "spacing": 135,
  "bounds": "flush",
  "hconcat": [
    {
      "width": 425,
      "height": 367,
      "encoding": {
        "x": {"field": "kd", "type": "quantitative",
              "scale": {"domain": [0, 30], "nice": false, "zero": false},
              "axis": {"values": [0, 10, 20, 30], "labelPadding": 30}},
        "y": {"field": "ratio", "type": "quantitative",
              "scale": {"domain": [0, 30], "nice": false, "zero": false},
              "axis": {"values": [0, 10, 20, 30], "labelPadding": 20}}
      },
      "layer": [
        {"data": {"name": "kdTicks"},
         "mark": {"type": "rule", "color": "black", "strokeWidth": 1.5},
         "encoding": {"y": {"datum": 0, "type": "quantitative"}, "y2": {"datum": 0.57}}},
        {"data": {"name": "ratioTicksA"},
         "mark": {"type": "rule", "color": "black", "strokeWidth": 1.5},
         "encoding": {"x": {"datum": 0, "type": "quantitative"}, "x2": {"datum": 0.494}}},
        {"data": {"name": "kdPoints"},
         "mark": {"type": "point", "filled": false, "color": "black", "opacity": 1, "size": 80, "strokeWidth": 1.2},
         "encoding": {"shape": {"field": "soil", "type": "nominal", "legend": null,
                                "scale": {"domain": ["CLAY", "SILT", "SAND"], "range": ["circle", "square", "triangle-up"]}}}},
        {"data": {"name": "fitCurves"},
         "mark": {"type": "line", "color": "black", "strokeWidth": 2, "interpolate": "monotone"},
         "encoding": {"detail": {"field": "fit", "type": "nominal"}}},
        {"data": {"name": "arrowsA"},
         "mark": {"type": "rule", "color": "black", "strokeWidth": 2},
         "encoding": {"x2": {"field": "kd2"}, "y2": {"field": "ratio2"}}},
        {"data": {"name": "arrowsA"},
         "mark": {"type": "point", "shape": "M0,0L-0.45,1.1L0.45,1.1Z", "filled": true, "color": "black", "opacity": 1, "size": 400},
         "encoding": {"angle": {"field": "angle", "type": "quantitative", "scale": null}}},
        {"data": {"name": "framesA"},
         "mark": {"type": "rect", "fill": "white", "stroke": "black", "strokeWidth": 1.4},
         "encoding": {"x2": {"field": "kd2"}, "y2": {"field": "ratio2"}}},
        {"data": {"name": "boxLabelsA"},
         "mark": {"type": "text", "fontSize": 22, "align": "center", "baseline": "middle"},
         "encoding": {"text": {"field": "label"}}},
        {"data": {"name": "legendSymA"},
         "mark": {"type": "point", "filled": false, "color": "black", "opacity": 1, "size": 30, "strokeWidth": 1},
         "encoding": {"shape": {"field": "soil", "type": "nominal", "legend": null}}},
        {"data": {"name": "legendTextA"},
         "mark": {"type": "text", "fontSize": 20, "align": "left", "baseline": "middle"},
         "encoding": {"text": {"field": "label"}}},
        {"data": {"name": "legendSubA"},
         "mark": {"type": "text", "fontSize": 12, "align": "left", "baseline": "middle"},
         "encoding": {"text": {"field": "label"}}},
        {"data": {"name": "titleBigA"},
         "mark": {"type": "text", "fontSize": 27, "fontWeight": "bold", "align": "left", "baseline": "alphabetic"},
         "encoding": {"text": {"field": "label"}}},
        {"data": {"name": "titleSubA"},
         "mark": {"type": "text", "fontSize": 17, "fontWeight": "bold", "align": "left", "baseline": "alphabetic"},
         "encoding": {"text": {"field": "label"}}},
        {"data": {"name": "fractionA"},
         "mark": {"type": "rule", "color": "black", "strokeWidth": 2},
         "encoding": {"x2": {"field": "kd2"}}},
        {"data": {"name": "axisNameA"},
         "mark": {"type": "text", "fontSize": 24, "fontWeight": "bold", "align": "left", "baseline": "alphabetic"},
         "encoding": {"text": {"field": "label"}}},
        {"data": {"name": "axisNameSubA"},
         "mark": {"type": "text", "fontSize": 16, "fontWeight": "bold", "align": "left", "baseline": "alphabetic"},
         "encoding": {"text": {"field": "label"}}},
        {"data": {"name": "panelTagA"},
         "mark": {"type": "text", "font": "Liberation Serif", "fontSize": 25, "fontWeight": "bold", "align": "center", "baseline": "alphabetic"},
         "encoding": {"text": {"field": "label"}}}
      ]
    },
    {
      "width": 424,
      "height": 367,
      "encoding": {
        "x": {"field": "id", "type": "quantitative",
              "scale": {"type": "log", "domain": [0.1, 10], "nice": false},
              "axis": {"values": [0.1, 1, 10], "format": "~g", "labelPadding": 30}},
        "y": {"field": "ratio", "type": "quantitative",
              "scale": {"domain": [0, 30], "nice": false, "zero": false},
              "axis": {"values": [0, 10, 20, 30], "labelPadding": 20}}
      },
      "layer": [
        {"data": {"name": "idTicks"},
         "mark": {"type": "rule", "color": "black", "strokeWidth": 1.5},
         "encoding": {"y": {"datum": 0, "type": "quantitative"}, "y2": {"datum": 0.57}}},
        {"data": {"name": "ratioTicksB"},
         "mark": {"type": "rule", "color": "black", "strokeWidth": 1.5},
         "encoding": {"x": {"datum": 0.1, "type": "quantitative"}, "x2": {"datum": 0.10789}}},
        {"data": {"name": "boundaries"},
         "mark": {"type": "rule", "color": "black", "strokeWidth": 2.5, "strokeDash": [2.5, 3]},
         "encoding": {"y2": {"field": "ratio2"}}},
        {"data": {"name": "idPoints"},
         "mark": {"type": "point", "filled": false, "color": "black", "opacity": 1, "size": 80, "strokeWidth": 1.1},
         "encoding": {"shape": {"field": "kdClass", "type": "nominal", "legend": null,
                                "scale": {"domain": ["1-2", "2-4", "4-8", "8-16", ">16"],
                                          "range": ["M-1,-1L1,1M-1,1L1,-1", "circle", "triangle-up", "diamond", "square"]}}}},
        {"data": {"name": "boundaryLabels"},
         "mark": {"type": "text", "fontSize": 16, "fontWeight": "bold", "align": "center", "baseline": "alphabetic", "dy": -8},
         "encoding": {"text": {"field": "label"}}},
        {"data": {"name": "zoneLabels"},
         "mark": {"type": "text", "fontSize": 22, "align": "center", "baseline": "alphabetic"},
         "encoding": {"text": {"field": "label"}}},
        {"data": {"name": "frameB"},
         "mark": {"type": "rect", "fill": "white", "stroke": "black", "strokeWidth": 1.4},
         "encoding": {"x2": {"field": "id2"}, "y2": {"field": "ratio2"}}},
        {"data": {"name": "legendSymB"},
         "mark": {"type": "point", "filled": false, "color": "black", "opacity": 1, "size": 40, "strokeWidth": 1},
         "encoding": {"shape": {"field": "kdClass", "type": "nominal", "legend": null}}},
        {"data": {"name": "legendTextB"},
         "mark": {"type": "text", "fontSize": 20, "align": "left", "baseline": "middle"},
         "encoding": {"text": {"field": "label"}}},
        {"data": {"name": "titleBigB"},
         "mark": {"type": "text", "fontSize": 27, "fontWeight": "bold", "align": "left", "baseline": "alphabetic"},
         "encoding": {"text": {"field": "label"}}},
        {"data": {"name": "titleSubB"},
         "mark": {"type": "text", "fontSize": 17, "fontWeight": "bold", "align": "left", "baseline": "alphabetic"},
         "encoding": {"text": {"field": "label"}}},
        {"data": {"name": "fractionB"},
         "mark": {"type": "rule", "color": "black", "strokeWidth": 2},
         "encoding": {"x2": {"field": "id2"}}},
        {"data": {"name": "axisNameB"},
         "mark": {"type": "text", "fontSize": 24, "fontWeight": "bold", "align": "left", "baseline": "alphabetic"},
         "encoding": {"text": {"field": "label"}}},
        {"data": {"name": "axisNameSubB"},
         "mark": {"type": "text", "fontSize": 16, "fontWeight": "bold", "align": "left", "baseline": "alphabetic"},
         "encoding": {"text": {"field": "label"}}},
        {"data": {"name": "panelTagB"},
         "mark": {"type": "text", "font": "Liberation Serif", "fontSize": 25, "fontWeight": "bold", "align": "center", "baseline": "alphabetic"},
         "encoding": {"text": {"field": "label"}}}
      ]
    }
  ]
}
